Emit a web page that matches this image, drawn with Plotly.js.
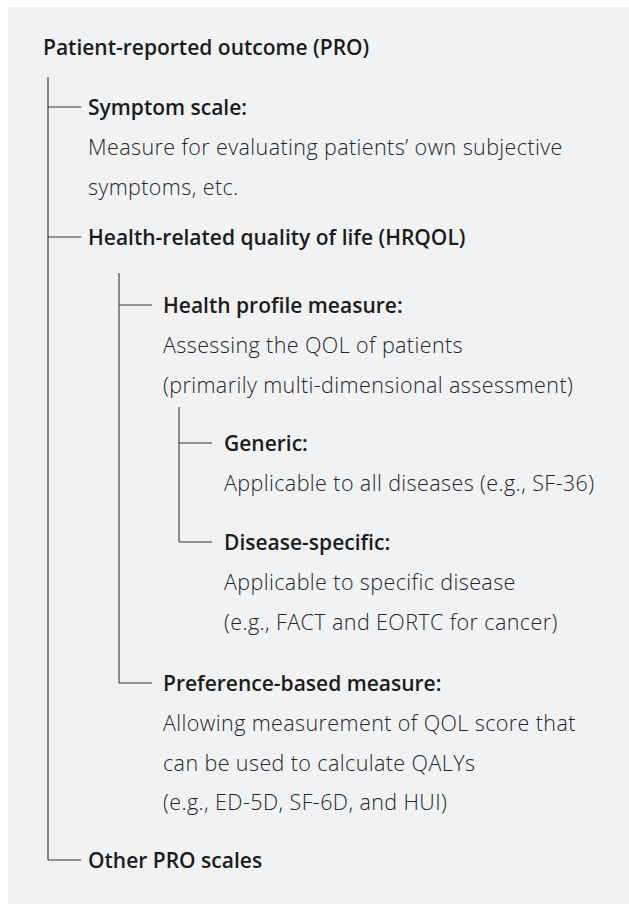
<!DOCTYPE html>
<html>
<head>
<meta charset="utf-8">
<script src="https://cdn.plot.ly/plotly-3.0.1.min.js"></script>
<style>html,body{margin:0;padding:0;background:#fff;}#chart{width:629px;height:904px;}</style>
</head>
<body>
<div id="chart"></div>
<script>
// ---- data: the tree ----
const nodeTitles = [
  "Patient-reported outcome (PRO)",
  "Symptom scale:",
  "Health-related quality of life (HRQOL)",
  "Health profile measure:",
  "Generic:",
  "Disease-specific:",
  "Preference-based measure:",
  "Other PRO scales"
];
const nodeParents = [-1, 0, 0, 2, 3, 3, 2, 0];
const nodeDepths = [0, 1, 1, 2, 3, 3, 2, 1];
const nodeDescriptions = [
  [],
  ["Measure for evaluating patients’ own subjective", "symptoms, etc."],
  [],
  ["Assessing the QOL of patients", "(primarily multi-dimensional assessment)"],
  ["Applicable to all diseases (e.g., SF-36)"],
  ["Applicable to specific disease", "(e.g., FACT and EORTC for cancer)"],
  ["Allowing measurement of QOL score that", "can be used to calculate QALYs", "(e.g., ED-5D, SF-6D, and HUI)"],
  []
];

// ---- layout (pixel geometry) ----
const W = 629, H = 904;
const headingY = [47, 107, 237, 305, 443, 542, 683, 860];
const lineStep = 39.5;
const textX = [41, 86, 161, 222];      // text start per depth
const branchX = [48, 119, 179];        // vertical connector x per parent depth
const stubLen = 33;
const trunkTopOffset = [30, 36, 23];

const headFont = {family: "'Open Sans', Lato, sans-serif", size: 21, color: "#1c1c1c", weight: 600};
const bodyFont = {family: "'Open Sans', Lato, sans-serif", size: 21.5, color: "#262626", weight: 300};

const annotations = [];
const shapes = [{
  type: "rect", xref: "x", yref: "y", x0: 8, x1: 629, y0: 7, y1: 904,
  fillcolor: "#f1f2f4", line: {width: 0}, layer: "below"
}];

nodeTitles.forEach((t, i) => {
  const d = nodeDepths[i];
  annotations.push({x: textX[d], y: headingY[i], xref: "x", yref: "y", text: t, align: "left",
    showarrow: false, xanchor: "left", yanchor: "middle", font: headFont});
  nodeDescriptions[i].forEach((line, k) => {
    annotations.push({x: textX[d], y: headingY[i] + lineStep * (k + 1), xref: "x", yref: "y", text: line,
      align: "left", showarrow: false, xanchor: "left", yanchor: "middle", font: bodyFont});
  });
});

// connectors
nodeTitles.forEach((t, p) => {
  const kids = nodeParents.map((q, j) => q === p ? j : -1).filter(j => j >= 0);
  if (!kids.length) return;
  const d = nodeDepths[p];
  const bx = branchX[d];
  const lastRow = headingY[p] + lineStep * nodeDescriptions[p].length;
  const top = lastRow + trunkTopOffset[d];
  const bottom = headingY[kids[kids.length - 1]];
  shapes.push({type: "line", xref: "x", yref: "y", x0: bx, x1: bx, y0: top, y1: bottom,
    line: {color: d === 0 ? "#6b6b6b" : "#555", width: d === 0 ? 1.6 : 1.3}});
  kids.forEach(k => {
    shapes.push({type: "line", xref: "x", yref: "y", x0: bx, x1: bx + stubLen, y0: headingY[k], y1: headingY[k],
      line: {color: "#333", width: 1.1}});
  });
});

Plotly.newPlot("chart", [], {
  width: W, height: H,
  margin: {l: 0, r: 0, t: 0, b: 0},
  paper_bgcolor: "#ffffff", plot_bgcolor: "rgba(0,0,0,0)",
  xaxis: {range: [0, W], visible: false, fixedrange: true},
  yaxis: {range: [H, 0], visible: false, fixedrange: true},
  showlegend: false,
  shapes: shapes,
  annotations: annotations
}, {displayModeBar: false, staticPlot: true}).then(gd => {
  // slightly wider tracking for the light description text (left-aligned, so start stays put)
  gd.querySelectorAll("text.annotation-text").forEach(el => {
    const w = el.style.fontWeight || el.getAttribute("font-weight");
    if (String(w) === "300") el.style.letterSpacing = "0.4px";
  });
});
</script>
</body>
</html>
